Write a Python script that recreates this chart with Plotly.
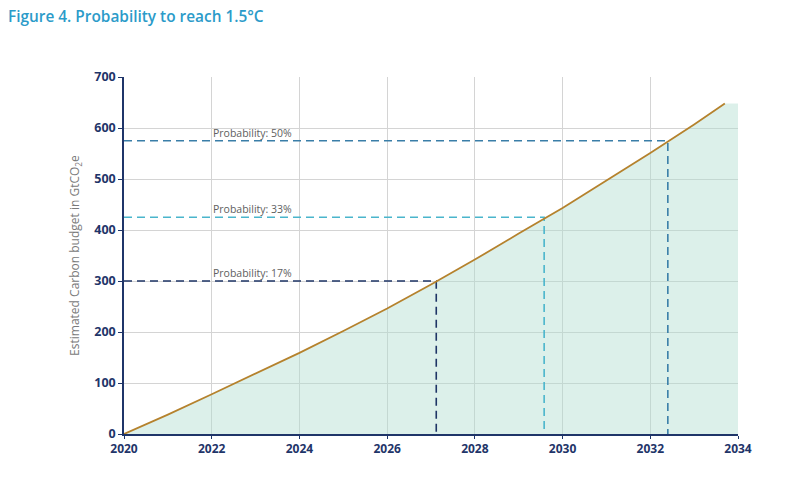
import plotly.graph_objects as go

years = [2020, 2021, 2022, 2023, 2024, 2025, 2026, 2027, 2028, 2029, 2030, 2031, 2032, 2033, 2033.7]
budget = [0, 38, 78, 118, 159, 202, 246, 293, 342, 393, 443, 497, 551, 607, 648]

fill_end_year = 2034

prob_labels = ["Probability: 50%", "Probability: 33%", "Probability: 17%"]
prob_budget = [575, 425, 300]
prob_year = [2032.4, 2029.58, 2027.12]
prob_colors = ["#3a7ea8", "#4ab5cc", "#1e3566"]

x_ticks = [2020, 2022, 2024, 2026, 2028, 2030, 2032, 2034]
y_ticks = [0, 100, 200, 300, 400, 500, 600, 700]

navy = "#1f3569"

fig = go.Figure()

# Fill area
fig.add_trace(go.Scatter(
    x=years + [fill_end_year], y=budget + [budget[-1]],
    mode="lines", line=dict(width=0), fill="tozeroy",
    fillcolor="rgba(178,222,208,0.45)", hoverinfo="skip", showlegend=False))

# Probability dashed lines
for lab, b, yr, c in zip(prob_labels, prob_budget, prob_year, prob_colors):
    fig.add_trace(go.Scatter(
        x=[2020, yr, yr], y=[b, b, 0], mode="lines",
        line=dict(color=c, width=1.6, dash="8px,5px"),
        showlegend=False, hoverinfo="skip"))
    fig.add_annotation(x=2021.98, y=b, text=lab, showarrow=False,
                       xanchor="left", yanchor="bottom", yshift=-1,
                       font=dict(family="Open Sans", size=10.5, color="#606060"))

# Curve
fig.add_trace(go.Scatter(
    x=years, y=budget, mode="lines",
    line=dict(color="#b5822d", width=1.8), showlegend=False))

fig.update_layout(
    width=800, height=483,
    margin=dict(l=116, r=70, t=69, b=57),
    plot_bgcolor="white", paper_bgcolor="white",
    title=dict(text="Figure 4. Probability to reach 1.5°C", x=0.0, xanchor="left",
               xref="container", y=0.983, yanchor="middle",
               font=dict(family="Open Sans", size=15.4, color="#2b9bc9", weight=600)),
    xaxis=dict(range=[2020, 2034], tickvals=x_ticks, showgrid=True,
               gridcolor="#d4d4d4", gridwidth=1, showline=True, linecolor=navy,
               linewidth=1.5, ticks="outside", tickcolor=navy, ticklen=3,
               tickfont=dict(family="Open Sans", size=12, color=navy, weight=700),
               zeroline=False),
    yaxis=dict(range=[0, 700], tickvals=y_ticks, showgrid=True,
               gridcolor="#d4d4d4", gridwidth=1, showline=True, linecolor=navy,
               linewidth=1.5, ticks="outside", tickcolor=navy, ticklen=4,
               tickfont=dict(family="Open Sans", size=12.5, color=navy, weight=700),
               zeroline=False,
               title=dict(text="Estimated Carbon budget in GtCO<sub>2</sub>e",
                          font=dict(family="Open Sans", size=12, color="#7a7a7a"),
                          standoff=12)),
)

fig.write_html("out.html")
